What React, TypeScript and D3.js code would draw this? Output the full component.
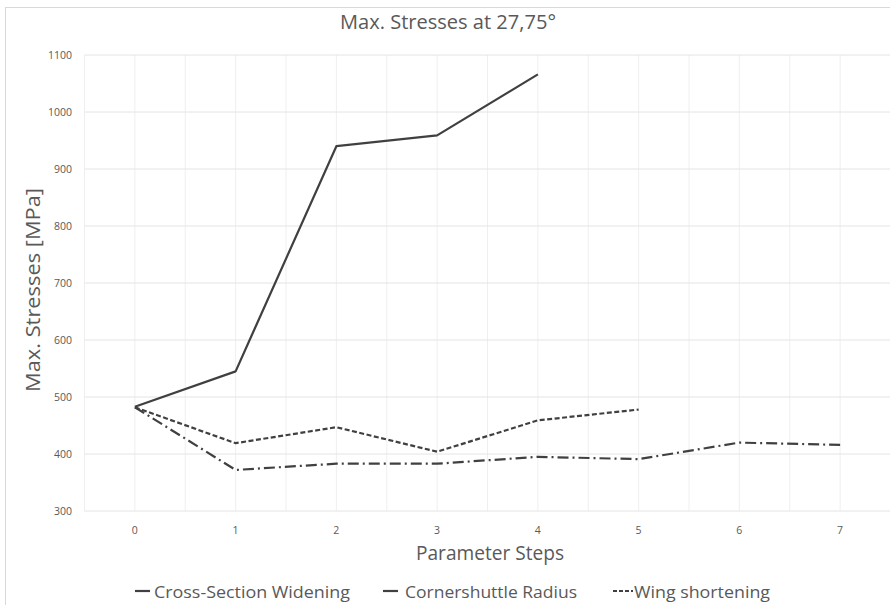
import React from "react";
import * as d3 from "d3";

const steps = [0, 1, 2, 3, 4, 5, 6, 7];
const yTicks = [300, 400, 500, 600, 700, 800, 900, 1000, 1100];
const crossSection = [483, 545, 940, 959, 1066];
const cornershuttle = [482, 372, 383, 383, 395, 391, 420, 416];
const wingShortening = [482, 419, 447, 404, 459, 478];

const seriesNames = ["Cross-Section Widening", "Cornershuttle Radius", "Wing shortening"];
const seriesData = [crossSection, cornershuttle, wingShortening];
const dashes = ["none", "11 4 2 4", "5 2.5"];

const W = 890, H = 605;
const left = 84.5, right = 890.5, top = 55, bottom = 511;
const FONT = "'Open Sans', 'Noto Sans', sans-serif";
const TXT = "#595959";
const LINE = "#404040";

export default function App() {
  const x = d3.scaleLinear().domain([-0.5, 7.5]).range([left, right]);
  const y = d3.scaleLinear().domain([300, 1100]).range([bottom, top]);
  const line = d3.line<number>().x((_, i) => x(steps[i])).y((d) => y(d));
  const halfSteps = d3.range(-0.5, 7.51, 0.5);

  const legendItems = [
    { lx: 135, lw: 15, tx: 154, tl: 196, dash: "none" },
    { lx: 383, lw: 15, tx: 405, tl: 172, dash: "none" },
    { lx: 613, lw: 20, tx: 634, tl: 136, dash: "4 2" },
  ];

  return (
    <svg width={W} height={H} style={{ position: "absolute", left: 0, top: 0, background: "#fff" }}>
      <rect x={0} y={0} width={W} height={H} fill="#fff" />
      <rect x={5.5} y={7.5} width={W + 20} height={H + 20} fill="#fff" stroke="#d9d9d9" />
      {halfSteps.map((v, i) => (
        <line key={"v" + i} x1={x(v)} x2={x(v)} y1={top} y2={bottom} stroke="#efefef" strokeWidth={1} />
      ))}
      {yTicks.map((t) => (
        <line key={"h" + t} x1={left} x2={right} y1={y(t)} y2={y(t)} stroke="#e4e4e4" strokeWidth={1} />
      ))}
      {yTicks.map((t) => (
        <text key={"yl" + t} x={72} y={y(t)} dy="0.35em" textAnchor="end" fontFamily={FONT} fontSize={10.5} fill={TXT}>
          {t}
        </text>
      ))}
      {steps.map((s) => (
        <text key={"xl" + s} x={x(s)} y={530} dy="0.35em" textAnchor="middle" fontFamily={FONT} fontSize={10.5} fill={TXT}>
          {s}
        </text>
      ))}
      {seriesData.map((d, i) => (
        <path key={"s" + i} d={line(d) || ""} fill="none" stroke={LINE} strokeWidth={2.2} strokeDasharray={dashes[i]} strokeLinejoin="round" />
      ))}
      <text x={448} y={22} dy="0.35em" textAnchor="middle" fontFamily={FONT} fontSize={19.5} fill={TXT} textLength={216} lengthAdjust="spacingAndGlyphs">
        Max. Stresses at 27,75°
      </text>
      <text x={490} y={553} dy="0.35em" textAnchor="middle" fontFamily={FONT} fontSize={19.5} fill={TXT} textLength={148} lengthAdjust="spacingAndGlyphs">
        Parameter Steps
      </text>
      <text transform={`translate(33,${290}) rotate(-90)`} dy="0.35em" textAnchor="middle" fontFamily={FONT} fontSize={20.5} fill={TXT} textLength={204} lengthAdjust="spacingAndGlyphs">
        Max. Stresses [MPa]
      </text>
      {legendItems.map((it, i) => (
        <g key={"lg" + i}>
          <line x1={it.lx} x2={it.lx + it.lw} y1={591} y2={591} stroke={LINE} strokeWidth={2.2} strokeDasharray={it.dash} />
          <text x={it.tx} y={592} dy="0.35em" fontFamily={FONT} fontSize={16.5} fill={TXT} textLength={it.tl} lengthAdjust="spacingAndGlyphs">
            {seriesNames[i]}
          </text>
        </g>
      ))}
    </svg>
  );
}
